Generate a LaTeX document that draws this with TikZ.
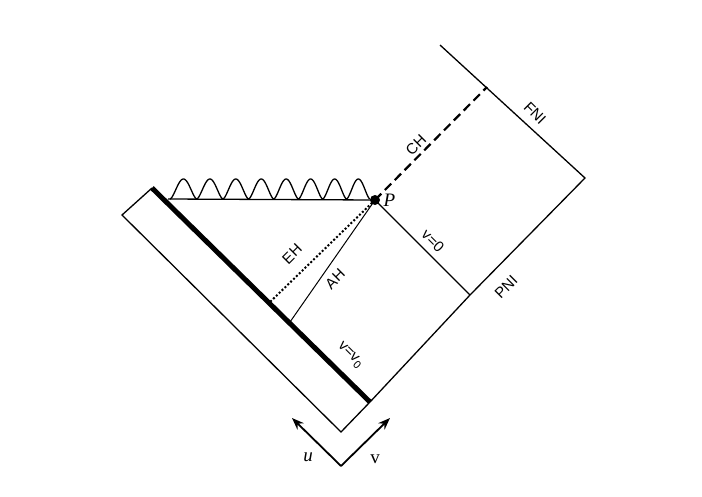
\documentclass[tikz,border=0pt]{standalone}
\usepackage{fontspec}
\setsansfont{Liberation Sans}
\setmainfont{Liberation Serif}
\usepackage{tikz}
\usetikzlibrary{arrows.meta,calc}
\tikzset{lbl/.style={font=\sffamily\fontsize{15}{16}\selectfont,inner sep=1pt},
         bnd/.style={draw,line width=1.3pt}}
\begin{document}
\begin{tikzpicture}[x=1pt,y=-1pt]
		\useasboundingbox (0,0) rectangle (702,496);
		\coordinate (B) at (341,432);
		\coordinate (L) at (122,215);
		\coordinate (T) at (152,188);
		\coordinate (Q) at (370,402);
		\coordinate (P) at (375,200);
		\coordinate (R) at (470,295);
		\coordinate (E) at (585,178);
		\coordinate (F) at (440,45);
		\coordinate (C) at (487,87);
		\coordinate (H) at (168,199);
		\coordinate (eh) at (270,302);
		\coordinate (ah) at (290,322);
		\coordinate (O) at (341,466);
		\coordinate (ue) at (292,418);
		\coordinate (ve) at (390,418);

		\draw[bnd] (T) -- (L) -- (B) -- (Q);
		\draw[line width=5pt] (T) -- (Q);
		\draw[bnd] (Q) -- (R) -- (E) -- (F);
		\draw[bnd] (P) -- (R);
		\draw[bnd] (H) -- (P);
		\draw[line width=2.2pt,dash pattern=on 9pt off 5pt] (P) -- (C);
		\draw[line width=2pt,dotted] (P) -- (eh);
		\draw[line width=1pt] (P) -- (ah);
		\draw[line width=1.3pt,domain=0:1,samples=400]
			plot ({170+200*\x},{199-20*abs(sin(180*(8*\x+0.6*\x*\x-0.6*\x)))^1.6});
		\fill (P) circle (5pt);

		\node[font=\itshape\fontsize{19}{20}\selectfont,right] (pl) at ($(P)+(5,0)$) {P};
		\node[lbl,rotate=45] (ehl) at (292,254) {EH};
		\node[lbl,rotate=45] (ahl) at (335,279) {AH};
		\node[lbl,rotate=-45] (v0l) at (433,241) {v=0};
		\node[lbl,rotate=-45] (vvl) at (350,355) {v=v\raisebox{-3pt}{\fontsize{11}{12}\selectfont 0}};
		\node[lbl,rotate=45] (pnil) at (506,287) {PNI};
		\node[lbl,rotate=-45] (fnil) at (535,113) {FNI};
		\node[lbl,rotate=45] (chl) at (416,145) {CH};

		\draw[-{Stealth[length=12pt,width=9pt]},line width=1.8pt] (O) -- (ue);
		\draw[-{Stealth[length=12pt,width=9pt]},line width=1.8pt] (O) -- (ve);
		\node[font=\itshape\fontsize{19}{20}\selectfont] (ul) at (308,457) {u};
		\node[font=\fontsize{19}{20}\selectfont] (vl) at (375,459) {v};
\end{tikzpicture}
\end{document}
